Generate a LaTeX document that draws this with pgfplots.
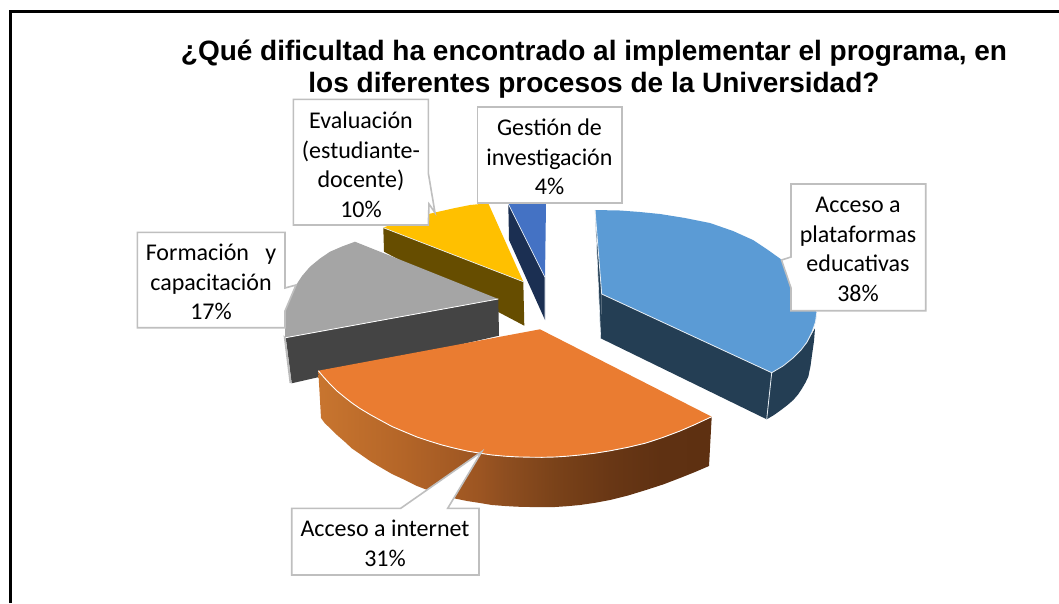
\documentclass[border=0pt]{standalone}
\usepackage{pgfplots}
\pgfplotsset{compat=1.18}
\usepackage{fontspec}
\setmainfont{Carlito}
\newfontfamily\titlefont{Liberation Sans}
\definecolor{cBlue}{HTML}{5B9BD5}
\definecolor{cBlueD}{HTML}{243E54}
\definecolor{cOrange}{HTML}{EA7C31}
\definecolor{cGray}{HTML}{A5A5A5}
\definecolor{cGrayD}{HTML}{444444}
\definecolor{cYellow}{HTML}{FFC000}
\definecolor{cYellowD}{HTML}{664D00}
\definecolor{cNavy}{HTML}{4472C4}
\definecolor{cNavyD}{HTML}{1B2F52}
\definecolor{cBox}{HTML}{BFBFBF}
\definecolor{cEdge}{HTML}{E8EEF4}
\definecolor{w1}{HTML}{C8752F}
\definecolor{w2}{HTML}{B56628}
\definecolor{w3}{HTML}{9C5522}
\definecolor{w4}{HTML}{8E4E20}
\definecolor{w5}{HTML}{7A4219}
\definecolor{w6}{HTML}{693715}
\definecolor{w7}{HTML}{5F3112}
\definecolor{w8}{HTML}{5E3011}
\pgfdeclarehorizontalshading{wallshade}{100bp}{color(0bp)=(w1); color(25bp)=(w1); color(35.3bp)=(w2); color(45.5bp)=(w3); color(48.7bp)=(w4); color(55.1bp)=(w5); color(62.1bp)=(w6); color(68.5bp)=(w7); color(75bp)=(w8); color(100bp)=(w8)}
\newcommand{\lab}[3]{\node[align=center,font=\fontsize{24}{29.5}\selectfont,text=black,inner sep=0pt] at (axis cs:#1,#2) {#3};}
\begin{document}
\begin{tikzpicture}
\begin{axis}[
  at={(0,0)},anchor=south west,
  scale only axis,width=1059pt,height=603pt,
  xmin=0,xmax=1059,ymin=0,ymax=603,y dir=reverse,
  hide axis,clip=true,
]
% page frame
\addplot[draw=black,line width=3pt] coordinates {(10.5,603) (10.5,11) (1059,11)};
% yellow slice
\addplot[fill=cYellowD,draw=none] coordinates {(383.3,227.7) (384,251.7) (524.3,325.7) (523.3,281.7)} --cycle;
\addplot[fill=cYellow,draw=none] coordinates {(383.3,227.7) (400,221) (420,216) (435,212.5) (455,208) (470,205) (488.3,203.3) (523.3,281.7)} --cycle;
\addplot[draw=cEdge,line width=0.7pt] coordinates {(383.3,227.7) (523.3,281.7)};
% small blue slice
\addplot[fill=cNavyD,draw=none] coordinates {(508.3,204) (509,240) (545,320) (545,277.3)} --cycle;
\addplot[fill=cNavy,draw=none] coordinates {(508.3,203.5) (525,203) (546,203.5) (545,277.3)} --cycle;
\addplot[draw=cEdge,line width=0.7pt] coordinates {(508.3,204) (545,277.3) (545,320)};
% gray slice
\addplot[fill=cGrayD,draw=none] coordinates {(285.7,337.7) (291.7,383.3) (499,335.7) (498.3,299)} --cycle;
\addplot[fill=cGray!75,draw=none] coordinates {(283.5,335) (285.7,337.7) (291.7,383.3) (289.5,383)} --cycle;
\addplot[fill=cGray,draw=none] coordinates {(285,337.7) (285,311.7) (289,299) (295,286.7) (302,276) (310,266.7) (320,258.5) (330,251.7) (342,246.5) (355,241.7) (498.3,299)} --cycle;
\addplot[draw=white,line width=0.8pt] coordinates {(285.7,337.7) (498.3,299)};
% large blue slice
\addplot[fill=cBlueD,draw=none] coordinates {(595,210) (600.7,338.3) (601.7,294)} --cycle;
\addplot[fill=cBlueD,draw=none] coordinates {(601.7,294) (600.7,338.3) (766.7,419.3) (771.7,372.7)} --cycle;
\addplot[fill=cBlueD,draw=none] coordinates {(771.7,372.7) (766.7,419.3) (774,415) (781,410) (787.5,405) (793.3,400) (798,394.5) (802,388.5) (805.5,382.5) (808.3,376.7) (810.5,366) (812,355) (814,341) (815,328.3) (806.7,343.3)} --cycle;
\addplot[fill=cBlue,draw=none] coordinates {(595,210) (620,210.5) (640,212) (660,214) (685,218) (710,223) (733,231) (753,240) (768,250) (782,260) (792,271) (800,283) (808,296) (814,307) (816.7,313) (815.5,322) (812,332) (807,342) (801,350) (793,358) (783,366) (771.7,372.7) (601.7,294)} --cycle;
\addplot[draw=cEdge,line width=0.8pt] coordinates {(595,210) (601.7,294) (771.7,372.7) (783,366) (793,358) (801,350) (807,342) (812,332) (815.5,322) (816.7,313)};
\addplot[draw=cEdge,line width=0.8pt] coordinates {(771.7,372.7) (766.7,419.3)};
\addplot[draw=cEdge,line width=0.6pt] coordinates {(595,210) (600.7,338.3)};
% orange slice: shaded wall
\addplot[shading=wallshade,draw=none] coordinates {(318.3,370.7) (321,418) (325,423.5) (330,428) (337,435) (345,442) (352,448.5) (360,454) (370,461) (380,467) (392,474) (405,480) (417,486) (430,491) (442,495) (455,498.5) (467,501) (480,503) (492,505) (505,506) (517,506.7) (530,507) (542,507.2) (555,507) (567,506.2) (580,505) (595,502.8) (610,500) (628,495.5) (646,490) (663,484.5) (680,478) (695,472) (709,466) (711.7,416.7) (695,424.5) (680,431) (663,437.4) (646,443) (628,447.3) (610,450.8) (595,453.2) (580,455) (567,456.2) (555,457) (542,457.3) (530,457.2) (517,456.9) (505,456.2) (492,455) (480,453.2) (467,451) (455,448.3) (442,445) (430,441.3) (417,437) (405,432) (392,426.5) (380,420) (370,414.5) (360,408.5) (352,403) (345,397.5) (337,391) (330,384) (324,377.5)} --cycle;
\addplot[fill=cOrange,draw=none] coordinates {(318.3,370.7) (540,329.3) (711.7,416.7) (695,424.5) (680,431) (663,437.4) (646,443) (628,447.3) (610,450.8) (595,453.2) (580,455) (567,456.2) (555,457) (542,457.3) (530,457.2) (517,456.9) (505,456.2) (492,455) (480,453.2) (467,451) (455,448.3) (442,445) (430,441.3) (417,437) (405,432) (392,426.5) (380,420) (370,414.5) (360,408.5) (352,403) (345,397.5) (337,391) (330,384) (324,377.5)} --cycle;
\addplot[draw=white,line width=0.9pt] coordinates {(318.3,370.7) (324,377.5) (330,384) (337,391) (345,397.5) (352,403) (360,408.5) (370,414.5) (380,420) (392,426.5) (405,432) (417,437) (430,441.3) (442,445) (455,448.3) (467,451) (480,453.2) (492,455) (505,456.2) (517,456.9) (530,457.2) (542,457.3) (555,457) (567,456.2) (580,455) (595,453.2) (610,450.8) (628,447.3) (646,443) (663,437.4) (680,431) (695,424.5) (711.7,416.7)};
% callouts
\addplot[fill=white,draw=cBox,line width=1.6pt] coordinates {(293.3,99.3) (428.3,99.3) (428.3,173) (435,212.7) (429,204) (428.3,225) (293.3,225)} --cycle;
\addplot[fill=white,draw=cBox,line width=1.6pt] coordinates {(477.3,106.7) (621.7,106.7) (621.7,202.7) (477.3,202.7)} --cycle;
\addplot[fill=white,draw=cBox,line width=1.6pt] coordinates {(791,184) (925.7,184) (925.7,310.7) (791,310.7) (791,288) (781.5,260) (791,257)} --cycle;
\addplot[fill=white,draw=cBox,line width=1.6pt] coordinates {(137.3,232.3) (285,232.3) (285,288) (296,285) (285,311) (285,327.7) (137.3,327.7)} --cycle;
\addplot[fill=white,draw=cBox,line width=1.6pt] coordinates {(291.7,508.3) (400.7,508.3) (481.7,451.7) (447.7,508.3) (479,508.3) (479,575) (291.7,575)} --cycle;
% texts
\lab{361}{165}{Evaluación\\(estudiante-\\docente)\\10\%}
\lab{549.5}{157}{Gestión de\\investigación\\4\%}
\lab{858}{249.5}{Acceso a\\plataformas\\educativas\\38\%}
\lab{211}{282}{Formación\ \ \ y\\capacitación\\17\%}
\lab{385}{543.5}{Acceso a internet\\31\%}
\node[align=center,font=\titlefont\fontsize{28}{32}\selectfont\bfseries,inner sep=0pt] at (axis cs:594,69.5) {¿Qué dificultad ha encontrado al implementar el programa, en\\los diferentes procesos de la Universidad?};
\path (axis cs:0,0) rectangle (axis cs:1059,603);
\end{axis}
\end{tikzpicture}
\end{document}
